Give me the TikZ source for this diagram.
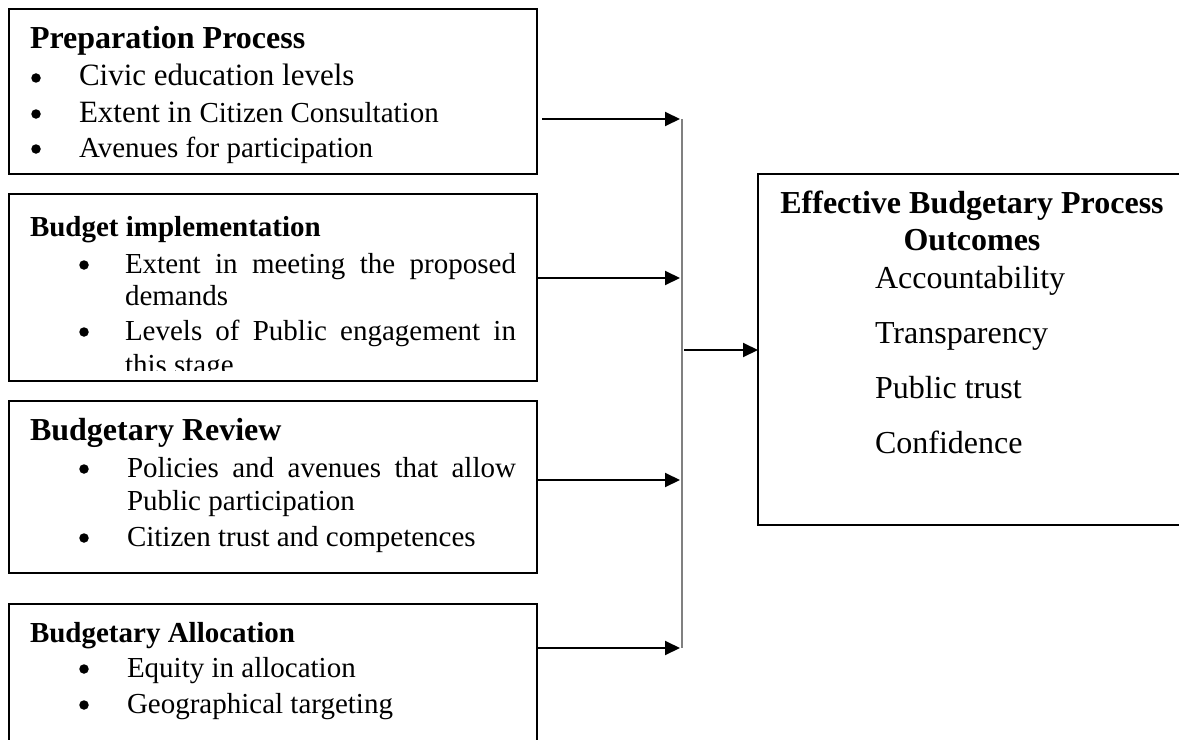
\documentclass[tikz,border=0pt]{standalone}
\usepackage{fontspec}
\setmainfont{Liberation Serif}
\usetikzlibrary{arrows.meta}
\newcommand{\fsz}[1]{\fontsize{#1bp}{#1bp}\selectfont}
\begin{document}
\begin{tikzpicture}[x=1bp,y=-1bp,
  box/.style={draw=black,line width=1.6bp,minimum width=528bp,inner sep=0pt,outer sep=0pt},
  txt/.style={anchor=base west,inner sep=0pt,outer sep=0pt},
  ctxt/.style={anchor=base,inner sep=0pt,outer sep=0pt},
  bul/.style={circle,fill=black,inner sep=0pt,minimum size=9.5bp},
  arr/.style={line width=2bp,-{Triangle[length=15bp,width=14bp]}},
  vline/.style={draw=gray,line width=1.3bp}]
\useasboundingbox (0,0) rectangle (1179,740);

% boxes
\node[box,minimum height=165bp] (b1) at (273,91.5) {};
\node[box,minimum height=187bp] (b2) at (273,287.5) {};
\node[box,minimum height=172bp] (b3) at (273,487) {};
\node[box,minimum height=160bp] (b4) at (273,684) {};
\node[box,minimum width=428bp,minimum height=351bp] (out) at (972,349.5) {};

% box 1 text
\begin{scope}
\clip (9,9) rectangle (537,163);
\node[txt,font=\fsz{32}\bfseries] (h1) at (30,49) {Preparation Process};
\node[bul] (u11) at (36,78) {};
\node[txt,font=\fsz{31}] (i11) at (79,86) {Civic education levels};
\node[bul] (u12) at (36,114) {};
\node[txt] (i12) at (79,122) {{\fsz{31}Extent in }{\fsz{29}Citizen Consultation}};
\node[bul] (u13) at (36,149) {};
\node[txt,font=\fsz{29}] (i13) at (79,157) {Avenues for participation};
\end{scope}

% box 2 text
\begin{scope}
\clip (9,194) rectangle (537,370);
\node[txt,font=\fsz{29}\bfseries] (h2) at (30,236) {Budget implementation};
\node[bul] (u21) at (84,265) {};
\node[txt,font=\fsz{29}] (i21) at (125,273) {\makebox[391bp][s]{Extent in meeting the proposed}};
\node[txt,font=\fsz{29}] (i22) at (125,305) {demands};
\node[bul] (u22) at (84,332) {};
\node[txt,font=\fsz{29}] (i23) at (125,340) {\makebox[391bp][s]{Levels of Public engagement in}};
\node[txt,font=\fsz{29}] (i24) at (125,374) {this stage};
\end{scope}

% box 3 text
\node[txt,font=\fsz{32}\bfseries] (h3) at (30,440) {Budgetary Review};
\node[bul] (u31) at (84,469) {};
\node[txt,font=\fsz{29}] (i31) at (127,477) {\makebox[389bp][s]{Policies and avenues that allow}};
\node[txt,font=\fsz{29}] (i32) at (127,510) {Public participation};
\node[bul] (u32) at (84,538) {};
\node[txt,font=\fsz{29}] (i33) at (127,546) {Citizen trust and competences};

% box 4 text
\node[txt,font=\fsz{29}\bfseries] (h4) at (30,642) {Budgetary Allocation};
\node[bul] (u41) at (84,669) {};
\node[txt,font=\fsz{29}] (i41) at (127,677) {Equity in allocation};
\node[bul] (u42) at (84,705) {};
\node[txt,font=\fsz{29}] (i42) at (127,713) {Geographical targeting};

% outcome box text
\node[ctxt,font=\fsz{32}\bfseries] (h5) at (972,213) {Effective Budgetary Process};
\node[ctxt,font=\fsz{32}\bfseries] (h6) at (972,250) {Outcomes};
\node[txt,font=\fsz{32}] (o1) at (875,288) {Accountability};
\node[txt,font=\fsz{32}] (o2) at (875,343) {Transparency};
\node[txt,font=\fsz{32}] (o3) at (875,398) {Public trust};
\node[txt,font=\fsz{32}] (o4) at (875,453) {Confidence};

% collector line and arrows
\coordinate (vt) at (682,119);
\coordinate (vb) at (682,648);
\draw[vline] (vt) -- (vb);
\coordinate (e1) at (680,119);
\coordinate (e2) at (680,278);
\coordinate (e3) at (680,480);
\coordinate (e4) at (680,648);
\path (b1.east |- e1) coordinate (s1);
\draw[arr] ([xshift=5bp]s1) -- (e1);
\draw[arr] (b2.east |- e2) -- (e2);
\draw[arr] (b3.east |- e3) -- (e3);
\draw[arr] (b4.east |- e4) -- (e4);
\coordinate (m) at (684,350);
\draw[arr] (m) -- (m -| out.west);
\end{tikzpicture}
\end{document}
